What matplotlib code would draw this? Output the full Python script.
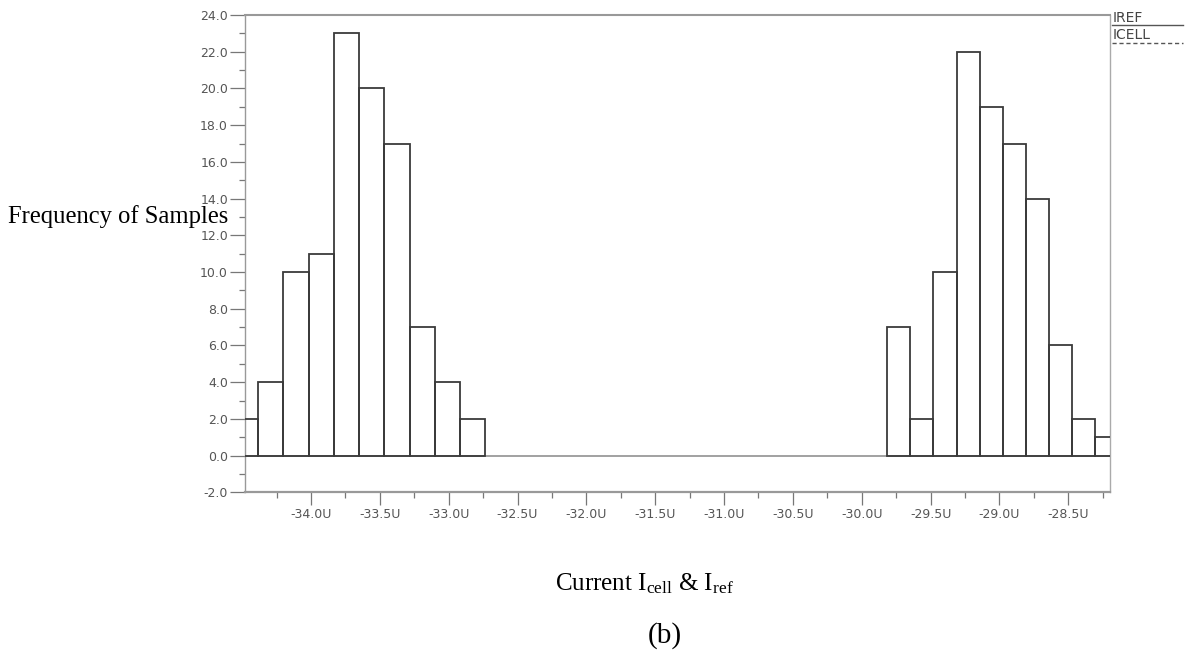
import matplotlib
matplotlib.use('Agg')
import matplotlib.pyplot as plt
from matplotlib.lines import Line2D
from matplotlib.ticker import FixedLocator

# ---- data ----
left_edges = [-34.566, -34.383, -34.200, -34.017, -33.833, -33.650,
              -33.467, -33.284, -33.101, -32.917, -32.734]
left_counts = [2, 4, 10, 11, 23, 20, 17, 7, 4, 2]

right_edges = [-29.815, -29.647, -29.479, -29.311, -29.143, -28.975,
               -28.807, -28.639, -28.472, -28.304, -28.136]
right_counts = [7, 2, 10, 22, 19, 17, 14, 6, 2, 1]

x_ticks = [-34.0, -33.5, -33.0, -32.5, -32.0, -31.5, -31.0,
           -30.5, -30.0, -29.5, -29.0, -28.5]
x_tick_labels = ['-34.0U', '-33.5U', '-33.0U', '-32.5U', '-32.0U', '-31.5U',
                 '-31.0U', '-30.5U', '-30.0U', '-29.5U', '-29.0U', '-28.5U']
x_minor = [-34.25, -33.75, -33.25, -32.75, -32.25, -31.75, -31.25,
           -30.75, -30.25, -29.75, -29.25, -28.75, -28.25]
y_ticks = [-2, 0, 2, 4, 6, 8, 10, 12, 14, 16, 18, 20, 22, 24]
y_tick_labels = ['-2.0', '0.0', '2.0', '4.0', '6.0', '8.0', '10.0', '12.0',
                 '14.0', '16.0', '18.0', '20.0', '22.0', '24.0']
y_minor = [-1, 1, 3, 5, 7, 9, 11, 13, 15, 17, 19, 21, 23]
legend_labels = ['IREF', 'ICELL']

plt.rcParams['mathtext.fontset'] = 'custom'
plt.rcParams['mathtext.rm'] = 'Liberation Serif'
plt.rcParams['mathtext.it'] = 'Liberation Serif:italic'

W, H = 1185, 656
fig = plt.figure(figsize=(W / 100, H / 100), dpi=100)
ax = fig.add_axes([244.7 / W, 1 - 492.3 / H, (1110 - 244.7) / W, (492.3 - 15) / H])

bar_color = '#3a3a3a'
for edges, counts in ((left_edges, left_counts), (right_edges, right_counts)):
    widths = [edges[i + 1] - edges[i] for i in range(len(counts))]
    ax.bar(edges[:-1], counts, width=widths, align='edge', fill=False,
           edgecolor=bar_color, linewidth=1.3, zorder=3)

ax.axhline(0, color='#9a9a9a', linewidth=1.3, zorder=2)

ax.set_xlim(-34.4815, -28.197)
ax.set_ylim(-2, 24)

ax.xaxis.set_major_locator(FixedLocator(x_ticks))
ax.xaxis.set_minor_locator(FixedLocator(x_minor))
ax.set_xticklabels(x_tick_labels)
ax.yaxis.set_major_locator(FixedLocator(y_ticks))
ax.yaxis.set_minor_locator(FixedLocator(y_minor))
ax.set_yticklabels(y_tick_labels)

ax.tick_params(axis='both', which='both', color='#777777', width=0.9,
               labelsize=9, labelcolor='#555555', direction='out')
ax.tick_params(axis='y', which='major', length=11, pad=1)
ax.tick_params(axis='y', which='minor', length=4.5)
ax.tick_params(axis='x', which='major', length=9, pad=2)
ax.tick_params(axis='x', which='minor', length=4.5)

for side in ('left', 'bottom', 'top'):
    ax.spines[side].set_color('#999999')
ax.spines['left'].set_linewidth(1.0)
ax.spines['bottom'].set_linewidth(1.6)
ax.spines['top'].set_linewidth(1.5)
ax.spines['right'].set_color('#aaaaaa')
ax.spines['right'].set_linewidth(1.0)
ax.spines['right'].set_linestyle((0, (1, 1)))

# legend at top right
fig.text(1113 / W, 1 - 18 / H, legend_labels[0], fontsize=10, color='#444444',
         ha='left', va='center')
fig.add_artist(Line2D([1112 / W, 1183 / W], [1 - 25 / H, 1 - 25 / H],
                      color='#555555', linewidth=1.0))
fig.text(1113 / W, 1 - 35 / H, legend_labels[1], fontsize=10, color='#444444',
         ha='left', va='center')
fig.add_artist(Line2D([1112 / W, 1183 / W], [1 - 42.5 / H, 1 - 42.5 / H],
                      color='#555555', linewidth=1.0, linestyle=(0, (3, 2))))

# axis labels
serif = ['Liberation Serif', 'DejaVu Serif']
fig.text(8 / W, 1 - 217 / H, 'Frequency of Samples', fontsize=17.7,
         family=serif, ha='left', va='center')
fig.text(644 / W, 1 - 590 / H, r'Current $\mathrm{I_{cell}}$ & $\mathrm{I_{ref}}$',
         fontsize=18, family=serif, ha='center', va='baseline')
fig.text(665 / W, 1 - 643 / H, '(b)', fontsize=21, family=serif,
         ha='center', va='baseline')

fig.savefig('out.png', dpi=100)
